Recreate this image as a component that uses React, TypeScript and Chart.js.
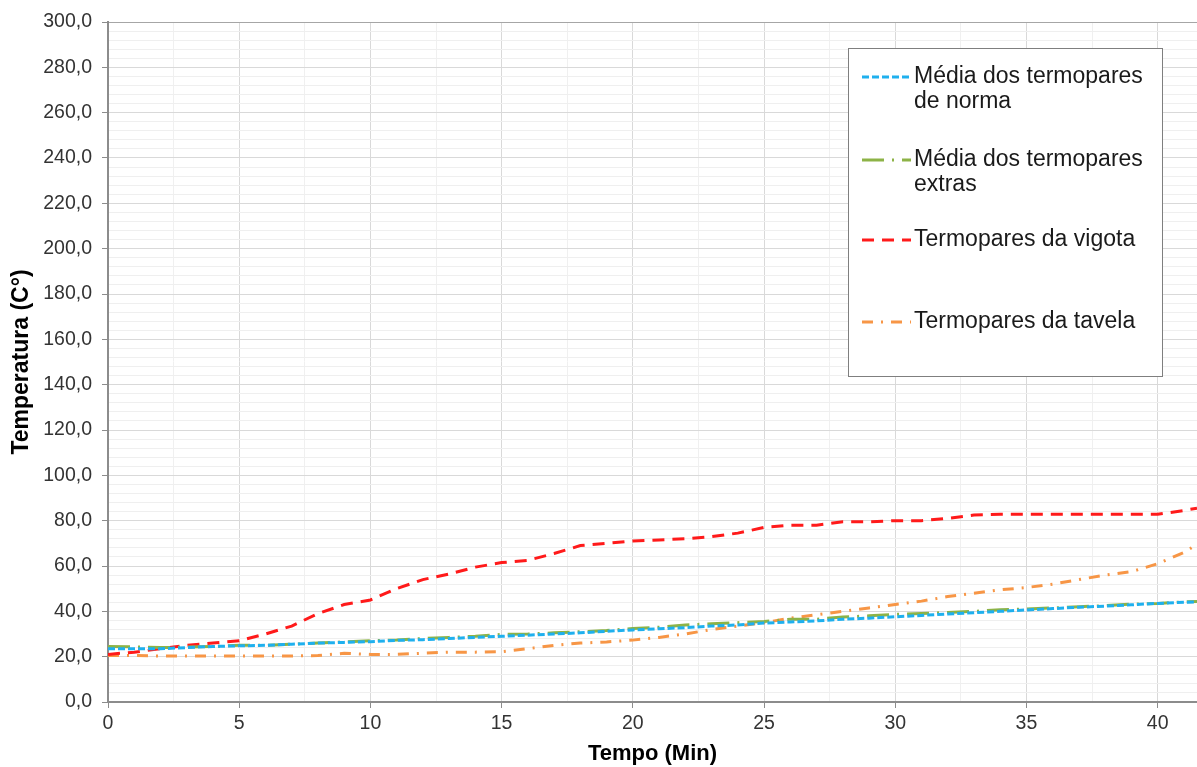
import React, { useEffect, useRef } from "react";
import { Chart, registerables } from "chart.js";

Chart.register(...registerables);

// Time in minutes
const minutes = [0, 1, 2, 3, 4, 5, 6, 7, 8, 9, 10, 11, 12, 13, 14, 15, 16, 17, 18, 19, 20, 21, 22, 23, 24, 25, 26, 27, 28, 29, 30, 31, 32, 33, 34, 35, 36, 37, 38, 39, 40, 41, 41.5];

const normaValues = [23.5, 23.5, 23.5, 24, 24.5, 24.8, 25, 25.5, 26, 26.3, 26.6, 27.2, 27.5, 28, 28.5, 29, 29.5, 30, 30.5, 31.2, 31.8, 32.3, 32.8, 33.5, 34, 34.8, 35.3, 35.8, 36.5, 37, 37.6, 38.2, 38.8, 39.4, 40, 40.6, 41.2, 41.8, 42.3, 42.9, 43.5, 44, 44.2];

const extrasValues = [24.5, 24.3, 24, 24.2, 24.5, 25, 25, 25.5, 26, 26.5, 27, 27.3, 28, 28.5, 29, 29.8, 30, 30.5, 31, 31.5, 32.4, 33, 34, 34.5, 35, 35.5, 36.5, 36.5, 37.5, 38, 38.7, 39, 39.5, 40, 40.7, 41, 41.5, 42, 42.5, 43.2, 43.5, 44.2, 44.3];

const vigotaValues = [21, 22, 23.5, 25, 26, 27, 30, 33.5, 39, 43, 45, 50, 54, 56.5, 59.5, 61.5, 62.5, 65.5, 69, 70, 71, 71.5, 72, 73, 74.5, 77, 78, 78, 79.5, 79.5, 80, 80, 81, 82.5, 82.8, 82.8, 82.8, 82.8, 82.8, 82.8, 82.8, 84.5, 85.5];

const tavelaValues = [20.5, 20.5, 20.3, 20.3, 20.3, 20.3, 20.3, 20.3, 20.5, 21.5, 21, 21, 21.5, 22, 22, 22.2, 23.5, 25, 26, 26.5, 27.3, 28.5, 30, 32, 33.5, 35, 37, 38.5, 40, 41.5, 43, 44.5, 46.5, 48, 49.5, 50.5, 52, 54, 56, 57.5, 61, 66, 69.5];

const seriesLabels = [
  ["Média dos termopares", "de norma"],
  ["Média dos termopares", "extras"],
  ["Termopares da vigota"],
  ["Termopares da tavela"],
];
const seriesColors = ["#1fb0ee", "#8db347", "#ff1a1a", "#f79646"];
const seriesDashes = [[7, 3], [22, 8, 2, 8], [12, 8], [11, 8, 2, 8]];

const xTitle = "Tempo (Min)";
const yTitle = "Temperatura (C°)";
const yMin = 0;
const yMax = 300;
const xMin = 0;
const xMax = 41.5;

const FONT = "'Liberation Sans', Arial, sans-serif";

const boxLegend = {
  id: "boxLegend",
  afterDraw(chart: any) {
    const ctx = chart.ctx as CanvasRenderingContext2D;
    ctx.save();
    const bx = 848.5, by = 48.5, bw = 314, bh = 328;
    ctx.fillStyle = "#ffffff";
    ctx.fillRect(bx, by, bw, bh);
    ctx.strokeStyle = "#7f7f7f";
    ctx.lineWidth = 1;
    ctx.strokeRect(bx, by, bw, bh);
    const rowY = [77, 160, 240, 322];
    chart.data.datasets.forEach((ds: any, i: number) => {
      const y = rowY[i];
      ctx.save();
      ctx.strokeStyle = ds.borderColor;
      ctx.lineWidth = 3;
      ctx.setLineDash(ds.borderDash);
      ctx.beginPath();
      ctx.moveTo(862, y);
      ctx.lineTo(911, y);
      ctx.stroke();
      ctx.restore();
      ctx.fillStyle = "#1a1a1a";
      ctx.font = `23px ${FONT}`;
      ctx.textBaseline = "middle";
      ctx.textAlign = "left";
      const lines: string[] = seriesLabels[i];
      lines.forEach((t, k) => ctx.fillText(t, 914, y + k * 25));
    });
    ctx.restore();
  },
};

export default function App() {
  const ref = useRef<HTMLCanvasElement | null>(null);
  useEffect(() => {
    if (!ref.current) return;
    const allValues = [normaValues, extrasValues, vigotaValues, tavelaValues];
    const chart = new Chart(ref.current, {
      type: "line",
      data: {
        datasets: allValues.map((vals, i) => ({
          label: seriesLabels[i].join(" "),
          data: minutes.map((m, j) => ({ x: m, y: vals[j] })),
          borderColor: seriesColors[i],
          backgroundColor: seriesColors[i],
          borderDash: seriesDashes[i],
          borderWidth: 3,
          pointRadius: 0,
          tension: 0,
          fill: false,
        })),
      },
      options: {
        responsive: false,
        animation: false,
        layout: { padding: { top: 22, right: 0, left: 0, bottom: 0 } },
        plugins: { legend: { display: false }, tooltip: { enabled: false } },
        scales: {
          x: {
            type: "linear",
            min: xMin,
            max: xMax,
            afterFit: (s: any) => { s.height = 65; },
            ticks: {
              stepSize: 2.5,
              includeBounds: false,
              autoSkip: false,
              maxRotation: 0,
              padding: 4,
              color: "#333333",
              font: { family: FONT, size: 19.5 },
              callback: (v: any) => (Math.abs(v % 5) < 1e-6 ? String(v) : ""),
            },
            grid: {
              color: (c: any) => (c.tick && Math.abs(c.tick.value % 5) < 1e-6 ? "#d9d9d9" : "#f0f0f0"),
              tickColor: (c: any) => (c.tick && Math.abs(c.tick.value % 5) < 1e-6 ? "#8c8c8c" : "rgba(0,0,0,0)"),
              tickLength: 6,
              lineWidth: 1,
            },
            border: { color: "#8c8c8c", width: 2 },
            title: {
              display: true,
              text: xTitle,
              color: "#000000",
              font: { family: FONT, size: 22, weight: "bold" },
              padding: { top: 0, bottom: 0 },
            },
          },
          y: {
            type: "linear",
            min: yMin,
            max: yMax,
            afterFit: (s: any) => { s.width = 108; },
            ticks: {
              stepSize: 4,
              autoSkip: false,
              padding: 10,
              color: "#333333",
              font: { family: FONT, size: 19.5 },
              callback: (v: any) => (Math.abs(v % 20) < 1e-6 ? Number(v).toFixed(1).replace(".", ",") : ""),
            },
            grid: {
              color: (c: any) => {
                if (!c.tick) return "#efefef";
                if (c.tick.value === yMax) return "#a6a6a6";
                return Math.abs(c.tick.value % 20) < 1e-6 ? "#d9d9d9" : "#efefef";
              },
              tickColor: (c: any) => (c.tick && Math.abs(c.tick.value % 20) < 1e-6 ? "#8c8c8c" : "rgba(0,0,0,0)"),
              tickLength: 6,
              lineWidth: 1,
            },
            border: { color: "#8c8c8c", width: 2 },
            title: {
              display: true,
              text: yTitle,
              color: "#000000",
              font: { family: FONT, size: 23, weight: "bold" },
              padding: { top: 8, bottom: 0 },
            },
          },
        },
      },
      plugins: [boxLegend],
    } as any);
    return () => chart.destroy();
  }, []);
  return (
    <div style={{ position: "absolute", left: 0, top: 0, width: 1197, height: 767, background: "#fff" }}>
      <canvas ref={ref} width={1197} height={767} style={{ display: "block" }} />
    </div>
  );
}
